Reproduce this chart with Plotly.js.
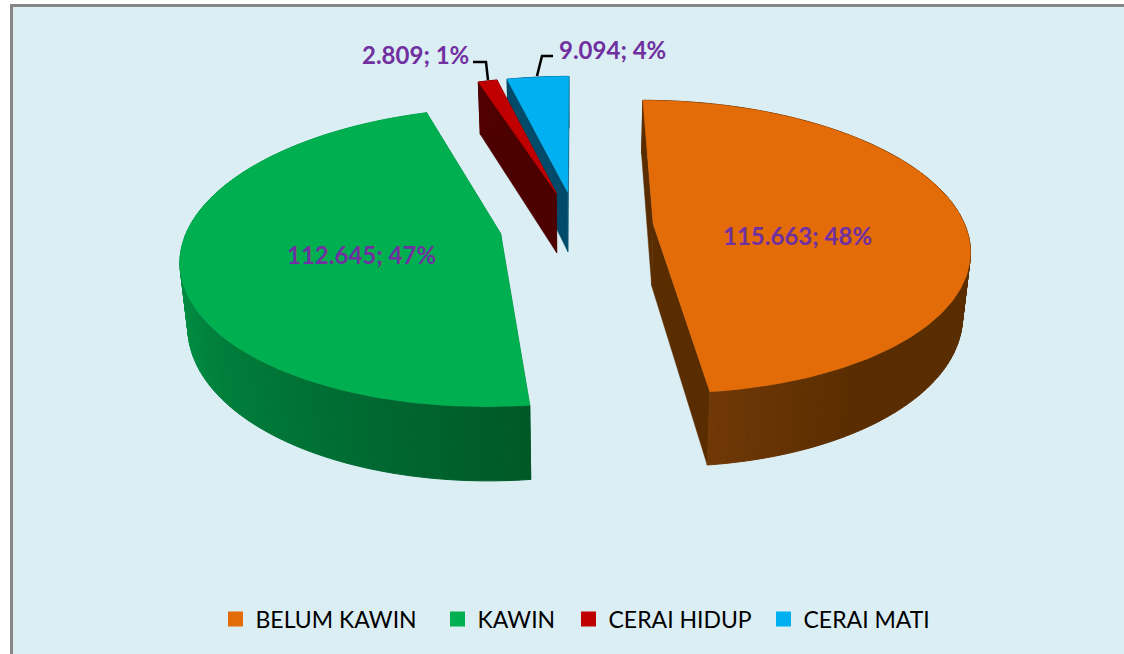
<!DOCTYPE html>
<html><head><meta charset="utf-8">
<script src="https://cdn.plot.ly/plotly-3.0.1.min.js"></script>
<style>html,body{margin:0;padding:0;background:#fff}#c{width:1124px;height:654px}</style></head>
<body><div id="c"></div>
<script>
// Data
const categories = ["BELUM KAWIN","KAWIN","CERAI HIDUP","CERAI MATI"];
const values = [115663,112645,2809,9094];
const labelTexts = ["115.663; 48%","112.645; 47%","2.809; 1%","9.094; 4%"];
// Styles
const topColors = ["#e36c09","#00b050","#c00000","#00b0f0"];
const faceColors = ["#5a2d00","#00682f","#4d0000","#004b69"];
const wallFront = [[112,56,6],[0,88,40],[80,0,0],[0,75,105]];
const wallSide = [[90,45,0],[0,152,72],[80,0,0],[0,75,105]];
const labelX = [797,361,415.5,612.5];
const labelY = [235,254,54.5,49];
const labelFont = {family:"Lato, 'Open Sans', sans-serif",size:24,color:"#7030a0",weight:700};
const legendX = [224.5,446.5,577.5,772.5];
// Projection of the tilted pie
const cx=576.5, cy=226, k=0.46, p=0.0005, R=312, ex=77, depth=62, lowScale=0.98;
function proj(X,Z,low){const s=1/(1+p*Z);return [cx+X*s*(low?lowScale:1), cy-k*Z*s+(low?depth*s:0)];}
const total=values.reduce((a,b)=>a+b,0);
const traces=[];
function poly(pts,color,w){
  const xs=pts.map(q=>q[0]).concat([pts[0][0]]), ys=pts.map(q=>q[1]).concat([pts[0][1]]);
  traces.push({type:"scatter",mode:"lines",x:xs,y:ys,fill:"toself",fillcolor:color,
    line:{color:color,width:w||0.5},showlegend:false,hoverinfo:"skip"});
}
let cum=0; const slices=values.map(v=>{const a=cum/total*2*Math.PI;cum+=v;const b=cum/total*2*Math.PI;return {a,b};});
const rad=Math.PI/180;
[3,2,0,1].forEach(i=>{
  const {a,b}=slices[i], m=(a+b)/2;
  const ax=ex*Math.sin(m), az=ex*Math.cos(m);
  const pt=t=>[ax+R*Math.sin(t), az+R*Math.cos(t)];
  const n=Math.max(4,Math.round((b-a)/(1*rad)));
  const arc=[];for(let j=0;j<=n;j++)arc.push(a+(b-a)*j/n);
  // cut faces
  [a,b].forEach(t=>{const q=pt(t);
    poly([proj(ax,az,false),proj(q[0],q[1],false),proj(q[0],q[1],true),proj(ax,az,true)],faceColors[i]);});
  // outer wall: strips from the back round to the front colour
  const order=i==0?arc.slice(0,-1).map((_,j)=>j):arc.slice(0,-1).map((_,j)=>n-1-j);
  order.forEach(j=>{
    const t0=arc[j],t1=arc[j+1],q0=pt(t0),q1=pt(t1),tm=(t0+t1)/2;
    const f=i==0?Math.min(1,(b-tm)/(25*rad)):Math.min(1,Math.max(0,(tm-a)/(95*rad)));
    const c=wallFront[i].map((v,d)=>Math.round(v+(wallSide[i][d]-v)*f));
    poly([proj(q0[0],q0[1],false),proj(q1[0],q1[1],false),proj(q1[0],q1[1],true),proj(q0[0],q0[1],true)],`rgb(${c.join(",")})`,1);
  });
  // top
  const top=[proj(ax,az,false)];
  arc.forEach(t=>{const q=pt(t);top.push(proj(q[0],q[1],false));});
  poly(top,topColors[i]);
});
// legend entries
const layoutLegends={};
categories.forEach((c,i)=>{
  const key=i?`legend${i+1}`:"legend";
  traces.push({type:"scatter",mode:"markers",x:[-50],y:[-50],name:c,legend:key,hoverinfo:"skip",
    marker:{symbol:"square",size:15,color:topColors[i]}});
  layoutLegends[key]={x:(legendX[i]-9)/1124,xanchor:"left",y:1-619/654,yanchor:"middle",bgcolor:"rgba(0,0,0,0)",
    font:{family:"Lato, 'Open Sans', sans-serif",size:23,color:"#000"},itemclick:false,itemdoubleclick:false,itemwidth:30,borderwidth:0};
});
const layout=Object.assign({
  width:1124,height:654,margin:{l:0,r:0,t:0,b:0},paper_bgcolor:"#fff",plot_bgcolor:"rgba(0,0,0,0)",
  xaxis:{range:[0,1124],visible:false,fixedrange:true},
  yaxis:{range:[654,0],visible:false,fixedrange:true},
  showlegend:true,
  shapes:[
    {type:"rect",layer:"below",xref:"x",yref:"y",x0:11.5,y0:5.5,x1:1130,y1:660,fillcolor:"#dbeef4",line:{color:"#868686",width:3}},
    {type:"path",xref:"x",yref:"y",path:"M 473 62 L 486 62 L 488 80",line:{color:"#000",width:2.5}},
    {type:"path",xref:"x",yref:"y",path:"M 553 56 L 542 56 L 537 76",line:{color:"#000",width:2.5}}
  ],
  annotations:labelTexts.map((t,i)=>({text:t,x:labelX[i],y:labelY[i],xref:"x",yref:"y",showarrow:false,xanchor:"center",yanchor:"middle",font:labelFont}))
},layoutLegends);
Plotly.newPlot("c",traces,layout,{displayModeBar:false,staticPlot:true});
</script></body></html>
